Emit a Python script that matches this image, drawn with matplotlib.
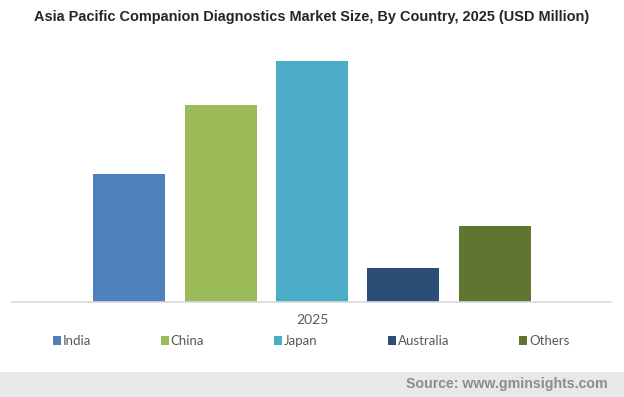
import matplotlib.pyplot as plt
from matplotlib.patches import Rectangle

countries = ['India', 'China', 'Japan', 'Australia', 'Others']
values = [128, 197, 241, 34, 76]
colors = ['#4f81bd', '#9bbb59', '#4bacc6', '#2c4d75', '#5f7530']
year = '2025'

W, H = 624, 397
fig = plt.figure(figsize=(W / 100, H / 100), dpi=100)

# axes spans pixel 12..611 horizontally, 40..302 vertically
ax = fig.add_axes([12 / W, 1 - 302 / H, (611 - 12) / W, (302 - 40) / H])
xs = list(range(len(countries)))
bars = ax.bar(xs, values, width=0.787, color=colors, label=countries)
ax.set_xlim(-1.279, 5.268)
ax.set_ylim(0, 262)
for s in ['top', 'right', 'left']:
    ax.spines[s].set_visible(False)
ax.spines['bottom'].set_color('#d9d9d9')
ax.spines['bottom'].set_linewidth(1.2)
ax.set_xticks([])
ax.set_yticks([])
ax.patch.set_alpha(0)

fig.text(312 / W, 1 - 320 / H, year, ha='center', va='center',
         fontsize=10, color='#595959', family='Lato')

leg = fig.legend(bars, countries, loc='center', bbox_to_anchor=(311 / W, 1 - 341 / H),
                 ncol=5, frameon=False, handlelength=0.6, handleheight=0.6,
                 handletextpad=0.15, columnspacing=5.3,
                 prop={'family': 'Lato', 'size': 9.5})
for t in leg.get_texts():
    t.set_color('#595959')

fig.text(0.5, 1 - 17 / H,
         'Asia Pacific Companion Diagnostics Market Size, By Country, 2025 (USD Million)',
         ha='center', va='center', fontsize=10.45, fontweight='bold',
         family='Liberation Sans', color='#262626')

# footer band
fig.patches.append(Rectangle((0, 0), 1, (H - 372) / H, transform=fig.transFigure,
                             facecolor='#e8e8e8', edgecolor='none', zorder=0))
fig.text(608 / W, 1 - 384 / H, 'Source: www.gminsights.com', ha='right', va='center',
         fontsize=10.2, fontweight='bold', family='Liberation Sans', color='#8c8c8c')

fig.savefig('out.png', dpi=100)
